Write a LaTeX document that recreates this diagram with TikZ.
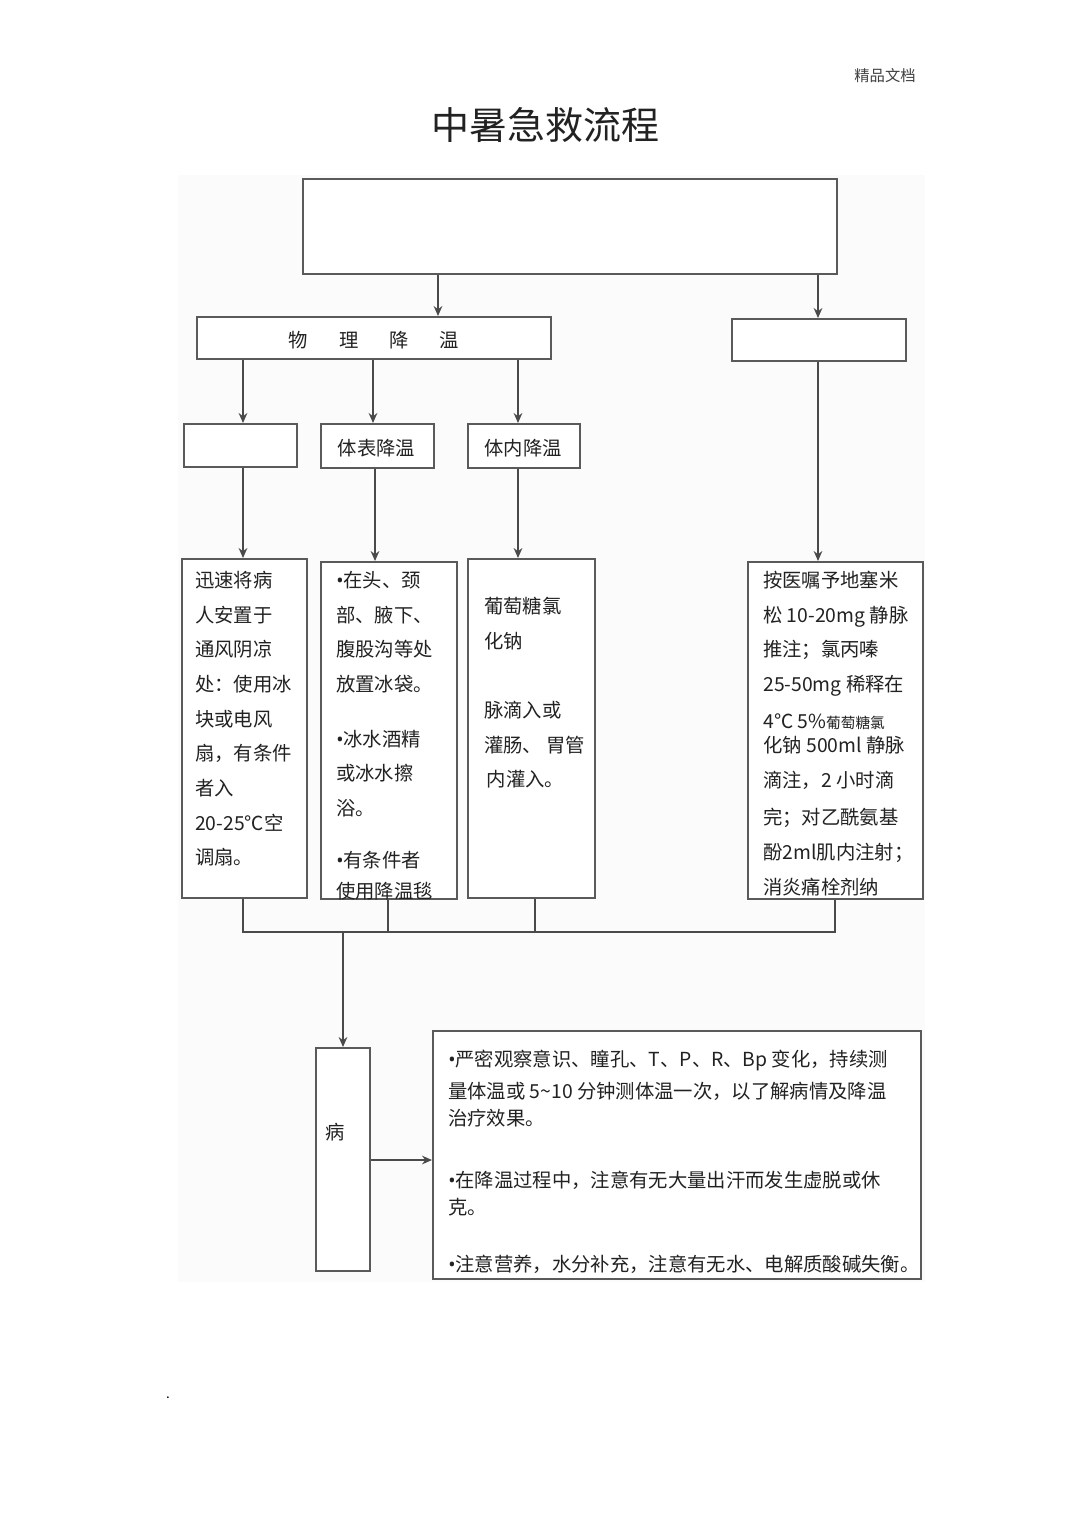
\documentclass[tikz,border=0pt]{standalone}
\usepackage{fontspec}
\setmainfont{Noto Sans CJK SC}
\newfontfamily\latinfont{Noto Sans}
\newcommand{\bul}{{\latinfont •}}
\usetikzlibrary{arrows.meta}
\definecolor{ln}{HTML}{4A4A4A}
\definecolor{bd}{HTML}{5A5A5A}
\definecolor{tx}{HTML}{222222}
\begin{document}
\begin{tikzpicture}[x=0.75pt,y=-0.75pt,
  box/.style 2 args={draw=bd,line width=1.6pt,fill=white,inner sep=0pt,anchor=north west,
    minimum width=#1*0.75pt,minimum height=#2*0.75pt},
  conn/.style={draw=ln,line width=1.5pt},
  arr/.style={conn,-{Stealth[length=7.5pt,width=6.5pt]}},
  txt/.style={inner sep=0pt,anchor=north west,align=left,text=tx,
    font=\fontsize{14.5}{26}\selectfont},
  lbl/.style={inner sep=0pt,text=tx,font=\fontsize{14.5}{17}\selectfont}]
\useasboundingbox (0,0) rectangle (1080,1528);
\fill[white] (0,0) rectangle (1080,1528);
\fill[black!1.5] (178,175) rectangle (925,1282);
% header and title
\node[inner sep=0pt,text=black!75,font=\fontsize{11.5}{14}\selectfont] (hdr) at (885,76) {精品文档};
\node[inner sep=0pt,text=tx,font=\fontsize{28.5}{32}\selectfont] (title) at (545,125) {中暑急救流程};
% boxes
\node[box={534}{95}] (top) at (302,178) {};
\node[box={354}{42}] (wl) at (196,316) {};
\node[lbl] (wltxt) at (374,340) {物\hspace{1.6em}理\hspace{1.6em}降\hspace{1.6em}温};
\node[box={174}{42}] (yw) at (731,318) {};
\node[box={113}{43}] (a) at (183,423) {};
\node[box={113}{44}] (b) at (320,423) {};
\node[lbl] (btxt) at (376.5,448) {体表降温};
\node[box={112}{44}] (c) at (467,423) {};
\node[lbl] (ctxt) at (523,448) {体内降温};
\node[box={125}{339}] (d) at (181,558) {};
\node[box={136}{337}] (e) at (320,561) {};
\node[box={127}{339}] (f) at (467,558) {};
\node[box={175}{337}] (g) at (747,561) {};
\node[box={54}{223}] (h) at (315,1047) {};
\node[lbl] (htxt) at (335,1132) {病};
\node[box={488}{248}] (k) at (432,1030) {};
% box texts
\node[txt] (dtxt) at (195,571) {迅速将病\\人安置于\\通风阴凉\\处：使用冰\\块或电风\\扇，有条件\\者入\\20-25℃空\\调扇。};
\node[txt] (etxt) at (336,571) {\bul 在头、颈\\部、腋下、\\腹股沟等处\\放置冰袋。\\[15pt]\bul 冰水酒精\\或冰水擦\\浴。\\[13pt]\bul 有条件者\\[-3pt]使用降温毯};
\node[txt] (ftxt) at (484,597) {葡萄糖氯\\化钠\\[26pt]脉滴入或\\灌肠、 胃管\\\hspace{2pt}内灌入。};
\node[txt] (gtxt) at (763,571) {按医嘱予地塞米\\松 10-20mg 静脉\\推注；氯丙嗪\\25-50mg 稀释在\\[2pt]4℃ 5\%{\fontsize{11}{12}\selectfont 葡萄糖氯}\\[-8pt]化钠 500ml 静脉\\滴注，2 小时滴\\[2pt]完；对乙酰氨基\\酚2ml肌内注射；\\消炎痛栓剂纳};
\node[txt,font=\fontsize{14.5}{22.5}\selectfont] (ktxt) at (448,1050) {\bul 严密观察意识、瞳孔、T、P、R、Bp 变化，持续测\\[1pt]量体温或 5\textasciitilde 10 分钟测体温一次，以了解病情及降温\\[-2pt]治疗效果。\\[24pt]\bul 在降温过程中，注意有无大量出汗而发生虚脱或休\\[-2pt]克。\\[20pt]\bul 注意营养，水分补充，注意有无水、电解质酸碱失衡。};
% connectors
\draw[arr] (top.south -| 438,0) -- (wl.north -| 438,0);
\draw[arr] (top.south -| 818,0) -- (yw.north -| 818,0);
\draw[arr] (wl.south -| 243,0) -- (a.north -| 243,0);
\draw[arr] (wl.south -| 373,0) -- (b.north -| 373,0);
\draw[arr] (wl.south -| 518,0) -- (c.north -| 518,0);
\draw[arr] (a.south -| 243,0) -- (d.north -| 243,0);
\draw[arr] (b.south -| 375,0) -- (e.north -| 375,0);
\draw[arr] (c.south -| 518,0) -- (f.north -| 518,0);
\draw[arr] (yw.south -| 818,0) -- (g.north -| 818,0);
\coordinate (jl) at (243,932);
\coordinate (jr) at (835,932);
\coordinate (jm) at (343,932);
\draw[conn] (d.south -| jl) -- (jl) -- (jr) -- (g.south -| jr);
\draw[conn] (e.south -| 388,0) -- (388,932);
\draw[conn] (f.south -| 535,0) -- (535,932);
\draw[arr] (jm) -- (h.north -| jm);
\draw[arr] (h.east |- 0,1160) -- (k.west |- 0,1160);
\node[inner sep=0pt,font=\fontsize{10}{12}\selectfont] (dot) at (168,1398) {.};
\end{tikzpicture}
\end{document}
